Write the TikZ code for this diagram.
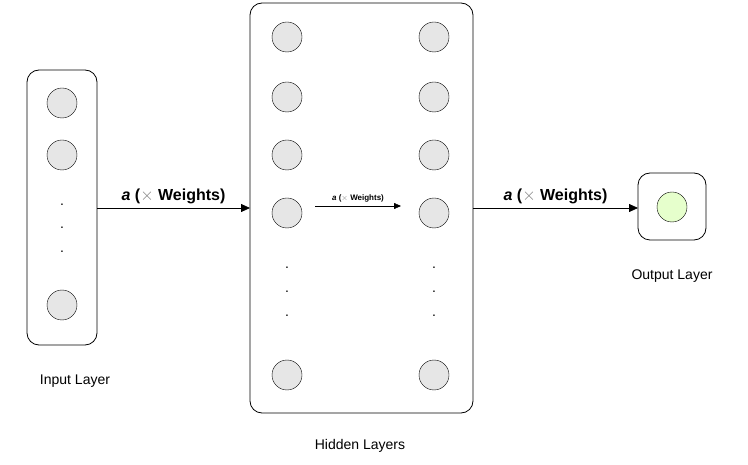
\documentclass[tikz,border=0pt]{standalone}
\usepackage{fontspec}
\setmainfont{Liberation Sans}
\usetikzlibrary{arrows.meta}
\definecolor{cellgray}{HTML}{E6E6E6}
\definecolor{cellgreen}{HTML}{E6FFCC}
\tikzset{
  layer/.style={draw,thick,rounded corners=12pt},
  neuron/.style={circle,draw,fill=cellgray,minimum size=30pt,inner sep=0pt},
  arrow/.style={-{Triangle[length=9pt,width=8pt]},thick},
  dot/.style={font=\fontsize{14}{14}\selectfont},
  wlabel/.style={font=\bfseries\fontsize{16}{16}\selectfont,above},
  caption/.style={font=\fontsize{14}{14}\selectfont}}
\newcommand{\wtext}{\textit{a} ({\color{gray}\mdseries$\times$} Weights)}

\begin{document}
\begin{tikzpicture}[x=1pt,y=-1pt]
    \useasboundingbox (0,0) rectangle (748,465);
    % input layer
    \draw[layer] (27,70) rectangle (97,345);
    \node[neuron] (i1) at (62,103) {};
    \node[neuron] (i2) at (62,155) {};
    \node[neuron] (i3) at (62,305) {};
    \foreach \y in {205,228,252} \node[dot] at (62,\y) {.};
    \node[caption] (inlab) at (75,381) {Input Layer};
    % hidden layers
    \draw[layer] (250,3) rectangle (473,413);
    \foreach \y [count=\k] in {37,97,155,213,375} {
      \node[neuron] (hl\k) at (287,\y) {};
      \node[neuron] (hr\k) at (434,\y) {};
    }
    \foreach \y in {268,292,316} {
      \node[dot] at (287,\y) {.};
      \node[dot] at (434,\y) {.};
    }
    \node[caption] (hidlab) at (360,446) {Hidden Layers};
    % output layer
    \draw[layer] (638,173) rectangle (706,240);
    \node[neuron,fill=cellgreen] (o1) at (672,207) {};
    \node[caption] (outlab) at (672,276) {Output Layer};
    % connections
    \coordinate (inR) at (97,208);
    \coordinate (hidL) at (250,208);
    \coordinate (hidR) at (473,208);
    \coordinate (outL) at (638,208);
    \draw[arrow] (inR) -- node[wlabel] {\wtext} (hidL);
    \draw[arrow] (hidR) -- node[wlabel] {\wtext} (outL);
    \coordinate (sA) at (315,206);
    \coordinate (sB) at (401,206);
    \draw[-{Triangle[length=7pt,width=6pt]}] (sA) -- node[above,font=\bfseries\fontsize{8}{8}\selectfont] {\wtext} (sB);
\end{tikzpicture}
\end{document}
